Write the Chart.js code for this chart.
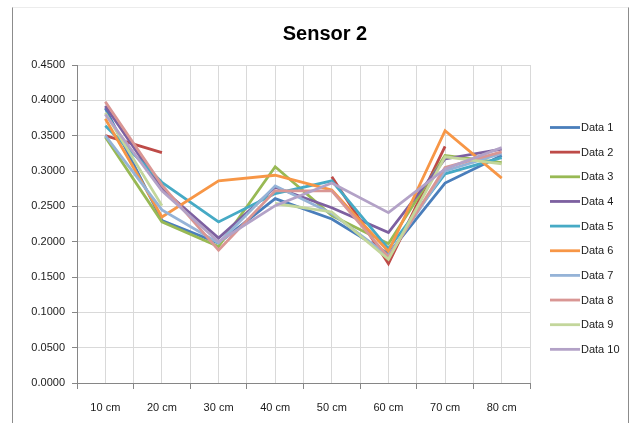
<!DOCTYPE html>
<html>
<head>
<meta charset="utf-8">
<script src="https://cdn.jsdelivr.net/npm/chart.js@4"></script>
<style>
  html, body { margin: 0; padding: 0; background: #fff; }
  #wrap { position: relative; width: 638px; height: 423px; }
  #frame { position: absolute; left: 12px; top: 7px; width: 615px; height: 420px;
           border-left: 1px solid #8c8c8c; border-top: 1px solid #ececec; border-right: 1px solid #8c8c8c; pointer-events: none; }
  canvas { position: absolute; left: 0; top: 0; }
</style>
</head>
<body>
<div id="wrap">
  <canvas id="chart" width="638" height="423"></canvas>
  <div id="frame"></div>
</div>
<script>
// Distance categories
const categories = ['10 cm', '20 cm', '30 cm', '40 cm', '50 cm', '60 cm', '70 cm', '80 cm'];

// Sensor 2 readings per run (null = no reading)
const data1  = [0.389, 0.230, 0.198, 0.261, 0.232, 0.183, 0.283, 0.322];
const data2  = [0.350, 0.326, null,  null,  0.292, 0.169, 0.335, null ];
const data3  = [0.348, 0.228, 0.193, 0.306, 0.237, 0.197, 0.322, 0.312];
const data4  = [0.392, 0.275, 0.205, 0.277, 0.248, 0.213, 0.317, 0.331];
const data5  = [0.364, 0.284, 0.228, 0.268, 0.286, 0.190, 0.296, 0.319];
const data6  = [0.374, 0.235, 0.286, 0.294, 0.273, 0.186, 0.357, 0.290];
const data7  = [0.350, 0.245, 0.198, 0.279, 0.240, 0.180, 0.300, 0.325];
const data8  = [0.398, 0.280, 0.188, 0.272, 0.272, 0.178, 0.305, 0.327];
const data9  = [0.382, 0.251, null,  0.254, 0.242, 0.175, 0.320, 0.310];
const data10 = [0.380, 0.272, 0.200, 0.251, 0.283, 0.241, 0.303, 0.333];

const seriesNames = ['Data 1', 'Data 2', 'Data 3', 'Data 4', 'Data 5',
                     'Data 6', 'Data 7', 'Data 8', 'Data 9', 'Data 10'];
const seriesValues = [data1, data2, data3, data4, data5, data6, data7, data8, data9, data10];

// Y axis tick values
const yTicks = [0, 0.05, 0.10, 0.15, 0.20, 0.25, 0.30, 0.35, 0.40, 0.45];

const chartTitle = 'Sensor 2';

// Office-style series palette
const seriesColors = ['#4a7ebb', '#be4b48', '#98b954', '#7d60a0', '#46aac5',
                      '#f79646', '#95b3d7', '#d99694', '#c3d69b', '#b3a2c7'];

const FONT = "'Liberation Sans', Arial, sans-serif";

const datasets = seriesValues.map((vals, i) => ({
  label: seriesNames[i],
  data: vals,
  borderColor: seriesColors[i],
  backgroundColor: seriesColors[i],
  borderWidth: 2.8,
  pointRadius: 0,
  pointHoverRadius: 0,
  tension: 0,
  spanGaps: false,
  fill: false,
  order: seriesValues.length - i   // later series painted on top
}));

// Title and legend drawn at fixed places around the plot
const decorations = {
  id: 'decorations',
  afterDraw(chart) {
    const ctx = chart.ctx;
    ctx.save();
    ctx.fillStyle = '#000';
    ctx.font = "bold 20px " + FONT;
    ctx.textAlign = 'center';
    ctx.textBaseline = 'middle';
    ctx.fillText(chartTitle, 325, 34);

    ctx.font = "11px " + FONT;
    ctx.textAlign = 'left';
    ctx.textBaseline = 'middle';
    chart.data.datasets.forEach((ds, i) => {
      const y = 127.5 + i * 24.65;
      ctx.strokeStyle = ds.borderColor;
      ctx.lineWidth = 2.8;
      ctx.beginPath();
      ctx.moveTo(550, y);
      ctx.lineTo(580, y);
      ctx.stroke();
      ctx.fillStyle = '#1a1a1a';
      ctx.fillText(ds.label, 581, y + 0.5);
    });
    ctx.restore();
  }
};

new Chart(document.getElementById('chart'), {
  type: 'line',
  data: { labels: categories, datasets },
  plugins: [decorations],
  options: {
    responsive: false,
    animation: false,
    events: [],
    layout: { padding: { left: 14, right: 108, top: 65, bottom: 0 } },
    plugins: {
      legend: { display: false },
      title: { display: false },
      tooltip: { enabled: false }
    },
    scales: {
      x: {
        type: 'category',
        offset: true,
        afterFit(scale) { scale.height = 40; },
        grid: { offset: true, color: '#d9d9d9', lineWidth: 1, tickLength: 6, tickColor: '#868686' },
        border: { color: '#868686', width: 1 },
        ticks: { color: '#1a1a1a', font: { family: FONT, size: 11 }, padding: 12, maxRotation: 0, autoSkip: false }
      },
      xMid: {
        type: 'category',
        position: 'bottom',
        offset: true,
        afterFit(scale) { scale.height = 0; },
        grid: { offset: false, color: '#d9d9d9', lineWidth: 1, drawTicks: false },
        border: { display: false },
        ticks: { display: false }
      },
      y: {
        min: 0,
        max: 0.45,
        afterFit(scale) { scale.width = 63; },
        afterBuildTicks(scale) { scale.ticks = yTicks.map(v => ({ value: v })); },
        grid: { color: '#d9d9d9', lineWidth: 1, tickLength: 5, tickColor: '#868686' },
        border: { color: '#868686', width: 1 },
        ticks: {
          color: '#1a1a1a',
          font: { family: FONT, size: 11 },
          padding: 7,
          callback: v => Number(v).toFixed(4)
        }
      }
    }
  }
});
</script>
</body>
</html>
